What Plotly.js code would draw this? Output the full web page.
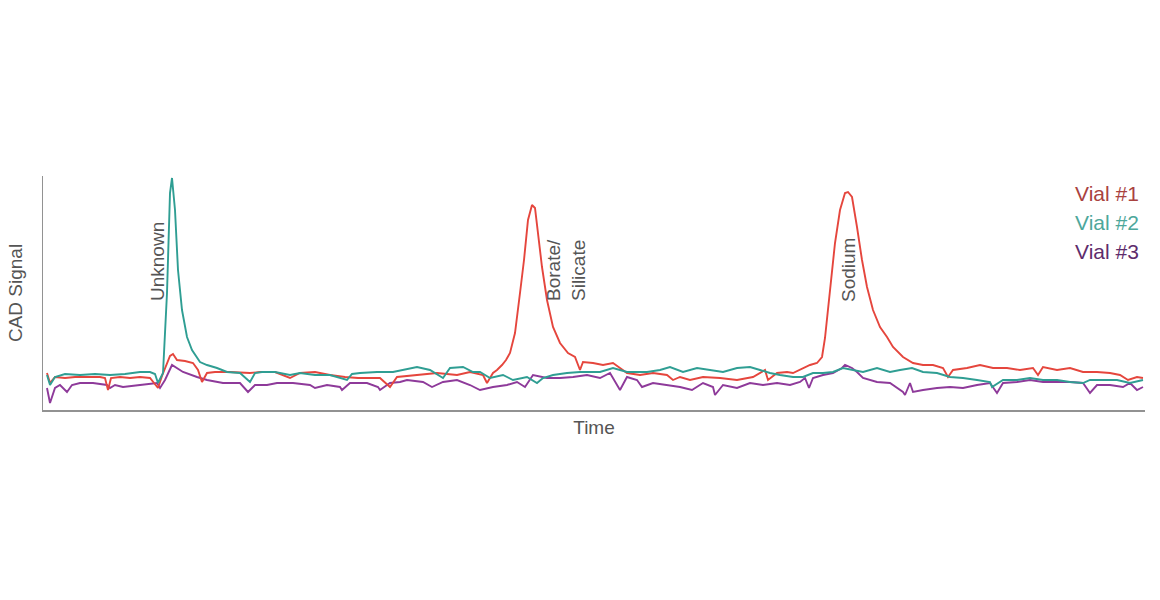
<!doctype html>
<html>
<head>
  <meta charset="utf-8">
  <title>CAD Signal vs Time</title>
  <script src="https://cdn.plot.ly/plotly-3.0.1.min.js"></script>
  <style>
    body { margin: 0; font-family: "Liberation Sans", Arial; background: #fff; }
    #chart { width: 1160px; height: 600px; }
  </style>
</head>
<body>
  <div id="chart"></div>
  <script>
    // chromatogram traces (time in min, signal in arbitrary units)
    var time1 = [0.4,0.7,1.2,2.2,3.2,4.7,5.7,6.2,6.5,6.8,7.7,8.7,9.7,10.7,11.5,11.9,12.3,12.7,13.0,13.4,
      14.2,15.0,15.5,15.9,16.4,17.2,18.7,20.7,21.7,23.2,24.7,25.7,27.2,28.7,30.2,31.5,33.7,34.7,35.4,37.4,
      39.4,41.4,42.7,44.0,44.4,45.0,45.4,45.9,46.3,46.7,47.2,47.7,48.1,48.5,48.9,49.2,49.5,49.9,50.4,51.0,
      51.7,52.5,53.2,53.7,54.0,55.0,56.0,57.0,57.7,58.4,59.7,61.0,62.4,63.0,63.7,64.7,66.0,67.7,69.4,71.0,
      72.2,72.5,73.4,74.4,75.0,76.0,76.7,77.4,77.9,78.2,78.7,79.2,79.7,80.2,80.5,80.9,81.4,81.9,82.4,83.0,
      83.7,84.4,85.0,86.0,87.0,88.0,89.0,90.0,90.5,91.0,92.4,93.7,95.0,96.4,97.7,99.0,99.5,100.0,101.4,102.7,
      104.0,105.4,106.7,107.7,108.5,109.4,110.0];
    var vial1 = [18.5,13.5,16.5,16,16.5,16.5,16.5,16,10,16,16.5,16,16.5,16,11,17,22.5,27,28,25,
      24.5,23.5,20,14,18.5,19,19,18.5,19,19,16,18.5,19,17.5,16.5,16,16,11.5,16.5,17.5,
      18.5,17.5,19,17.5,13.5,18.5,20,22.5,25,28.5,38.5,58.5,75,95,102.5,101,88.5,71.5,55,41.5,
      33.5,28.5,26.5,20,24,23.5,22.5,23.5,21,18.5,17.5,18.5,17.5,15,16.5,15,16.5,16,15,16.5,
      20,15,18.5,19,18.5,21,22.5,23.5,26.5,36,58.5,83.5,100,108.5,109,106.5,91.5,75,61.5,50,
      41.5,36.5,31.5,26.5,23.5,22.5,22.5,21,16.5,20,21,22.5,21,21,20,21,17.5,21.5,20,21,
      19,19,18.5,17.5,15,16.5,16];

    var time2 = [0.4,0.7,1.2,2.2,3.7,5.2,6.7,8.2,9.7,10.7,11.2,11.5,12.0,12.4,12.7,12.9,13.2,13.5,13.9,14.4,
      14.9,15.7,16.4,17.4,18.4,19.7,20.7,21.2,21.9,23.2,24.7,25.7,27.2,28.7,30.4,30.9,31.7,33.4,35.0,36.7,
      37.4,38.7,40.0,40.7,42.0,43.0,43.7,44.7,46.0,47.0,48.4,49.4,50.0,51.0,52.4,53.7,55.7,57.0,58.4,60.4,
      61.7,62.7,64.0,65.4,66.7,68.0,69.4,70.7,71.7,72.7,73.7,75.0,76.0,77.0,78.0,79.0,80.0,81.0,82.0,83.4,
      84.7,85.7,86.9,88.0,89.4,90.7,92.0,93.4,94.7,94.9,96.0,97.4,98.7,100.0,101.4,102.7,104.0,104.7,106.0,107.4,
      108.7,110.0];
    var vial2 = [17.5,12.5,16.5,18,17.5,18,17.5,18,19,19,18,13.5,18.5,58.5,108.5,116,100,70,50,36.5,
      30,24,22.5,21,19,18.5,14,18.5,19,19,17.5,18.5,17.5,17.5,15,18,18.5,19,19,21,
      21.5,20,16,21,21.5,19,19,16,17.5,15,16.5,13.5,16,17.5,18.5,19,19,21,19,19,
      20,21.5,19,21,20,19,21,21.5,20,18.5,17.5,16.5,16.5,18.5,18.5,19,21,20,19,21,
      19,20,21,19,18.5,16.5,16,15,14,11.5,15,15,16,15,15,14,13.5,15,15,15,
      13.5,15];

    var time3 = [0.4,0.7,1.2,1.7,2.4,2.9,3.7,5.0,6.4,6.7,7.2,8.0,9.7,11.4,11.7,12.2,12.9,13.4,14.0,15.4,
      16.4,18.0,19.7,20.5,21.2,22.4,23.4,25.0,26.7,27.2,28.4,29.7,29.9,30.7,32.4,33.5,33.7,34.7,35.7,36.4,
      38.0,38.9,40.0,41.4,42.7,43.7,45.0,46.4,47.4,48.2,49.0,50.4,51.7,53.0,54.4,55.7,56.7,57.7,58.4,59.4,
      59.9,61.0,62.4,63.7,64.9,66.0,67.0,67.2,68.0,69.4,70.7,72.0,73.4,74.7,75.7,76.2,76.6,77.0,78.0,79.0,
      79.9,80.2,80.9,81.4,82.0,83.4,84.7,86.0,86.2,86.7,87.0,88.0,89.4,90.7,92.0,93.4,94.7,95.4,96.0,97.4,
      98.7,100.0,101.4,102.7,104.0,104.7,105.4,106.7,108.0,108.7,109.4,110.0];
    var vial3 = [11,3.5,11,12.5,9,12.5,13.5,13.5,12.5,11,12.5,11.5,12.5,13.5,11,15,22.5,21,19,16.5,
      15,13.5,13.5,9,12.5,12.5,13.5,13.5,12.5,11,12.5,11.5,10,13.5,13.5,11.5,10,13.5,14,15,
      14,11.5,14,15,12.5,10,11.5,12.5,14,11.5,17.5,16,16,16.5,17.5,16,18.5,10,16.5,15,
      11.5,13.5,12.5,11.5,10,13.5,11.5,7.5,12.5,11,13.5,12.5,13.5,12.5,14,16,11,16,17.5,18.5,
      21,22.5,21,19,16,14,13.5,9,7.5,13.5,9,10,11,11.5,11,12.5,13.5,8.5,13.5,14,
      15,14,14,14,13.5,8.5,12.5,12.5,11.5,13.5,10,11.5];

    var seriesNames = ['Vial #1', 'Vial #2', 'Vial #3'];
    var lineColors = ['#e5463d', '#2f9e93', '#8e3a9a'];
    var legendColors = ['#a9423f', '#4da79b', '#5e2c6c'];

    var peakLabels = ['Unknown', 'Borate/<br>Silicate', 'Sodium'];
    var peakTimes = [11.4, 52.3, 80.5];
    var peakLabelY = [74, 70, 70];

    var gray = '#555555';

    var traces = [
      {x: time3, y: vial3, name: seriesNames[2], line: {color: lineColors[2]}},
      {x: time1, y: vial1, name: seriesNames[0], line: {color: lineColors[0]}},
      {x: time2, y: vial2, name: seriesNames[1], line: {color: lineColors[1]}}
    ];
    traces.forEach(function(t) {
      t.type = 'scatter';
      t.mode = 'lines';
      t.line.width = 1.9;
      t.hoverinfo = 'skip';
    });

    var annotations = [];
    // peak names, rotated
    peakLabels.forEach(function(label, i) {
      annotations.push({
        xref: 'x', yref: 'y', x: peakTimes[i], y: peakLabelY[i],
        text: label, textangle: -90, showarrow: false, align: 'left',
        xanchor: 'center', yanchor: 'middle',
        font: {size: 19, color: gray}
      });
    });
    // coloured text legend at the top right
    var legendY = [0.927, 0.803, 0.679];
    seriesNames.forEach(function(name, i) {
      annotations.push({
        xref: 'paper', yref: 'paper', x: 0.996, y: legendY[i],
        text: name, showarrow: false, xanchor: 'right', yanchor: 'middle',
        font: {size: 21, color: legendColors[i]}
      });
    });

    var layout = {
      width: 1160,
      height: 600,
      margin: {l: 43, r: 15, t: 176, b: 190},
      paper_bgcolor: '#ffffff',
      plot_bgcolor: '#ffffff',
      showlegend: false,
      font: {family: '"Liberation Sans", Arial, sans-serif', color: gray},
      xaxis: {
        range: [0, 110.2],
        showline: true, linecolor: '#929292', linewidth: 1.5,
        showgrid: false, zeroline: false, ticks: '', showticklabels: false,
        title: {text: 'Time', font: {size: 19, color: gray}, standoff: 10}
      },
      yaxis: {
        range: [0, 117],
        showline: true, linecolor: '#929292', linewidth: 1.5,
        showgrid: false, zeroline: false, ticks: '', showticklabels: false,
        title: {text: 'CAD Signal', font: {size: 19, color: gray}, standoff: 14}
      },
      annotations: annotations
    };

    Plotly.newPlot('chart', traces, layout, {staticPlot: true, displayModeBar: false});
  </script>
</body>
</html>
